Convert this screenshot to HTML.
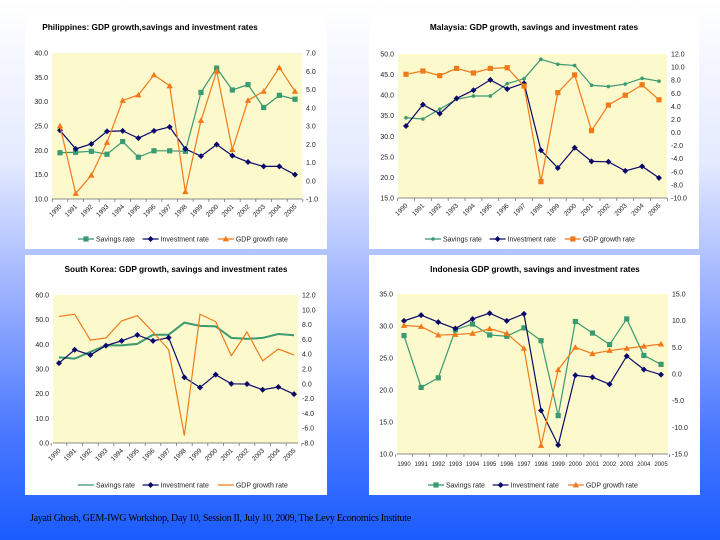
<!DOCTYPE html>
<html><head><meta charset="utf-8"><style>
html,body{margin:0;padding:0}
body{width:720px;height:540px;overflow:hidden;position:relative;font-family:"Liberation Sans",sans-serif;
background:linear-gradient(180deg,#ffffff 0%,#e4eaff 30%,#9ab0ff 55%,#4a78ff 80%,#1a5cff 100%)}
.panel{position:absolute;background:#fff}
svg text{font-family:"Liberation Sans",sans-serif}
#footer{position:absolute;left:30px;top:513px;font-family:"Liberation Serif",serif;font-size:10px;color:#000;letter-spacing:-0.3px}
</style></head><body>
<div class="panel" style="left:25px;top:15px;width:302px;height:234px"></div>
<div class="panel" style="left:369px;top:15px;width:330px;height:234px"></div>
<div class="panel" style="left:25px;top:255px;width:302px;height:240px"></div>
<div class="panel" style="left:369px;top:255px;width:331px;height:240px"></div>
<svg id="svg" width="720" height="540" style="position:absolute;left:0;top:0"></svg>
<div id="footer">Jayati Ghosh, GEM-IWG Workshop, Day 10, Session II, July 10, 2009, The Levy Economics Institute</div>
<script>
const years = ["1990","1991","1992","1993","1994","1995","1996","1997","1998","1999","2000","2001","2002","2003","2004","2005"];
// Philippines
const phSavings = [19.5,19.6,19.8,19.2,21.8,18.6,19.9,19.9,19.8,31.9,36.9,32.4,33.5,28.8,31.3,30.5];
const phInvest = [24.1,20.3,21.3,23.9,24.0,22.5,24.0,24.8,20.3,18.8,21.2,18.9,17.6,16.7,16.7,15.0];
const phGdp = [3.0,-0.7,0.3,2.1,4.4,4.7,5.8,5.2,-0.6,3.3,6.0,1.7,4.4,4.9,6.2,4.9];
const phLeftTicks = [10,15,20,25,30,35,40];
const phRightTicks = [-1,0,1,2,3,4,5,6,7];
// Malaysia
const mySavings = [34.5,34.2,36.6,39.0,39.8,39.8,42.8,44.0,48.7,47.5,47.2,42.4,42.1,42.7,44.1,43.4];
const myInvest = [32.5,37.7,35.5,39.2,41.2,43.7,41.5,42.9,26.6,22.3,27.2,23.9,23.8,21.6,22.7,19.9];
const myGdp = [8.9,9.4,8.7,9.8,9.1,9.8,9.9,7.1,-7.5,6.1,8.8,0.3,4.2,5.7,7.3,5.0];
const myLeftTicks = [15,20,25,30,35,40,45,50];
const myRightTicks = [-10,-8,-6,-4,-2,0,2,4,6,8,10,12];
// South Korea
const krSavings = [34.7,34.2,36.9,39.6,39.6,40.2,43.9,43.9,48.8,47.5,47.3,42.6,42.2,42.6,44.2,43.7];
const krInvest = [32.4,37.8,35.7,39.5,41.4,43.8,41.4,42.7,26.6,22.5,27.7,24.0,23.9,21.6,22.7,19.8];
const krGdp = [9.1,9.4,5.9,6.2,8.5,9.2,7.0,4.6,-7.0,9.4,8.4,3.8,7.0,3.1,4.7,3.9];
const krLeftTicks = [0,10,20,30,40,50,60];
const krRightTicks = [-8,-6,-4,-2,0,2,4,6,8,10,12];
// Indonesia
const idSavings = [28.5,20.4,21.9,29.4,30.3,28.6,28.4,29.7,27.7,16.0,30.7,28.9,27.1,31.1,25.4,24.0];
const idInvest = [30.8,31.7,30.6,29.6,31.1,32.0,30.8,31.9,16.8,11.4,22.3,22.0,20.9,25.3,23.2,22.4];
const idGdp = [9.1,8.9,7.3,7.4,7.6,8.5,7.6,4.8,-13.4,0.8,5.0,3.8,4.4,4.8,5.2,5.6];
const idLeftTicks = [10,15,20,25,30,35];
const idRightTicks = [-15,-10,-5,0,5,10,15];

const NS="http://www.w3.org/2000/svg";
const svg=document.getElementById('svg');
function mk(tag,attrs,parent){const e=document.createElementNS(NS,tag);for(const k in attrs)e.setAttribute(k,attrs[k]);(parent||svg).appendChild(e);return e;}
const GREEN="#3a9a72",NAVY="#0a0a6a",ORANGE="#f07a1a";

function marker(g,type,x,y,color){
  let e;
  if(type==='square'){e=mk('rect',{x:x-2.6,y:y-2.6,width:5.2,height:5.2,fill:color},g);}
  else if(type==='diamond'){e=mk('polygon',{points:`${x},${y-3} ${x+3},${y} ${x},${y+3} ${x-3},${y}`,fill:color},g);}
  else if(type==='triangle'){e=mk('polygon',{points:`${x},${y-3.2} ${x+3.2},${y+2.4} ${x-3.2},${y+2.4}`,fill:color},g);}
  else if(type==='dot'){e=mk('circle',{cx:x,cy:y,r:1.8,fill:color},g);}
  else return;
  
  
}

function chart(c){
  const g=mk('g',{});
  
  
  const t=mk('text',{x:c.titleX,y:c.titleY,'font-size':8.3,'font-weight':'bold','text-anchor':'middle',fill:'#000'},g);
  t.textContent=c.title;
  
  
  const bg=mk('rect',{x:c.x0,y:c.y0,width:c.x1-c.x0,height:c.y1-c.y0,fill:'#fcf9cc'},g);
  
  
  const n=years.length;
  const xs=i=>c.px0+(c.px1-c.px0)*i/(n-1);
  const ly=v=>c.y1-(v-c.lmin)/(c.lmax-c.lmin)*(c.y1-c.y0);
  const ry=v=>c.y1-(v-c.rmin)/(c.rmax-c.rmin)*(c.y1-c.y0);
  // axes
  mk('line',{x1:c.x0,y1:c.y1,x2:c.x1,y2:c.y1,stroke:'#666','stroke-width':0.8},g);
  const step=(c.px1-c.px0)/(n-1);
  for(let i=0;i<=n;i++){const tx=c.px0-step/2+i*step;mk('line',{x1:tx,y1:c.y1,x2:tx,y2:c.y1+3,stroke:'#666','stroke-width':0.7},g);}
  c.lt.forEach(v=>{const e=mk('text',{x:c.x0-4,y:ly(v)+2.5,'font-size':7,'text-anchor':'end',fill:'#222'},g);e.textContent=v.toFixed(1);
    });
  c.rt.forEach(v=>{const e=mk('text',{x:c.x1+4,y:ry(v)+2.5,'font-size':7,'text-anchor':'start',fill:'#222'},g);e.textContent=v.toFixed(1);
    });
  years.forEach((yr,i)=>{
    let e;
    if(c.rot){e=mk('text',{x:xs(i)+2,y:c.y1+8,'font-size':6.5,'text-anchor':'end',fill:'#222',transform:`rotate(-45 ${xs(i)+2} ${c.y1+8})`},g);}
    else{e=mk('text',{x:xs(i),y:c.y1+12,'font-size':6,'text-anchor':'middle',fill:'#222'},g);}
    e.textContent=yr;
    
    
  });
  const series=[
    {d:c.sav,col:GREEN,m:c.mS,w:c.wS||1.2,f:ly,name:'savings-rate-line'},
    {d:c.inv,col:NAVY,m:'diamond',w:1.2,f:ly,name:'investment-rate-line'},
    {d:c.gdp,col:ORANGE,m:c.mG,w:1.2,f:ry,name:'gdp-growth-line'}];
  series.forEach(s=>{
    const p=mk('polyline',{points:s.d.map((v,i)=>xs(i)+','+s.f(v)).join(' '),fill:'none',stroke:s.col,'stroke-width':s.w},g);
    
    
    s.d.forEach((v,i)=>marker(g,s.m,xs(i),s.f(v),s.col));
  });
  // legend
  const ly0=c.legY;let lx=c.legX;
  const items=[['Savings rate',GREEN,c.mS],['Investment rate',NAVY,'diamond'],['GDP growth rate',ORANGE,c.mG]];
  items.forEach(it=>{
    const lg=mk('g',{},g);
    
    
    mk('line',{x1:lx,y1:ly0,x2:lx+16,y2:ly0,stroke:it[1],'stroke-width':1.3},lg);
    marker(lg,it[2]==='none'?'none':it[2],lx+8,ly0,it[1]);
    const tt=mk('text',{x:lx+18,y:ly0+2.5,'font-size':7,fill:'#222'},lg);tt.textContent=it[0];
    lx+=18+it[0].length*3.55+4;
  });
}

chart({name:'philippines-chart',title:'Philippines: GDP growth,savings and investment rates',titleX:150,titleY:30,
 x0:52,x1:302,y0:53,y1:199,px0:60,px1:295,lmin:10,lmax:40,rmin:-1,rmax:7,lt:phLeftTicks,rt:phRightTicks,
 sav:phSavings,inv:phInvest,gdp:phGdp,mS:'square',mG:'triangle',rot:true,legX:78,legY:239});
chart({name:'malaysia-chart',title:'Malaysia: GDP growth, savings and investment rates',titleX:534,titleY:30,
 x0:398,x1:667,y0:54,y1:198,px0:406,px1:659,lmin:15,lmax:50,rmin:-10,rmax:12,lt:myLeftTicks,rt:myRightTicks,
 sav:mySavings,inv:myInvest,gdp:myGdp,mS:'dot',mG:'square',rot:true,legX:425,legY:239});
chart({name:'south-korea-chart',title:'South Korea: GDP growth, savings and investment rates',titleX:176,titleY:272,
 x0:53,x1:298,y0:295,y1:443,px0:59,px1:294,lmin:0,lmax:60,rmin:-8,rmax:12,lt:krLeftTicks,rt:krRightTicks,
 sav:krSavings,inv:krInvest,gdp:krGdp,mS:'none',mG:'none',wS:2,rot:true,legX:78,legY:485});
chart({name:'indonesia-chart',title:'Indonesia GDP growth, savings and investment rates',titleX:535,titleY:272,
 x0:397,x1:668,y0:294,y1:454,px0:404,px1:661,lmin:10,lmax:35,rmin:-15,rmax:15,lt:idLeftTicks,rt:idRightTicks,
 sav:idSavings,inv:idInvest,gdp:idGdp,mS:'square',mG:'triangle',rot:false,legX:428,legY:485});
</script>
</body></html>
